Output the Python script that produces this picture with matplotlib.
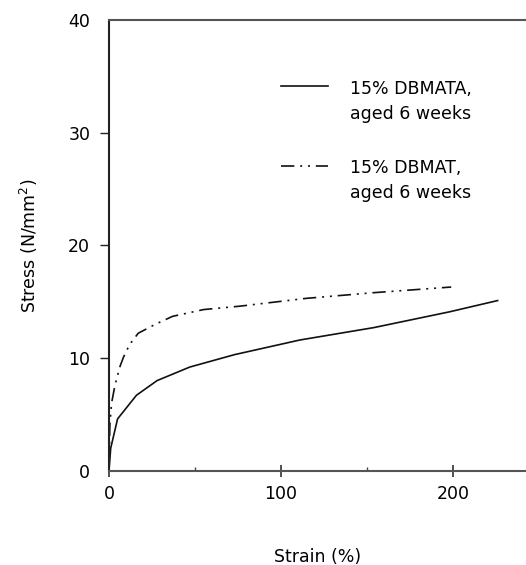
import numpy as np
import matplotlib
matplotlib.use("Agg")
import matplotlib.pyplot as plt

# ---------------------------------------------------------------------------
# Stress-strain data
# ---------------------------------------------------------------------------
strain_dbmata = [0, 1, 5, 16, 28, 47, 73, 111, 154, 198, 226]
stress_dbmata = [0, 2.0, 4.6, 6.7, 8.0, 9.2, 10.3, 11.6, 12.7, 14.1, 15.1]

strain_dbmat = [0, 0.5, 1.5, 3.5, 6.5, 8.5, 12, 17, 27, 37, 55, 76, 115, 154, 199]
stress_dbmat = [0, 4.0, 6.0, 7.6, 9.3, 10.1, 11.2, 12.2, 13.0, 13.7, 14.3, 14.6,
                15.3, 15.8, 16.3]

label_dbmata = "15% DBMATA,\naged 6 weeks"
label_dbmat = "15% DBMAT,\naged 6 weeks"

x_major = [0, 100, 200]
x_minor = [50, 150]
y_major = [0, 10, 20, 30, 40]

plt.rcParams["font.family"] = ["DejaVu Sans"]

fig = plt.figure(figsize=(5.26, 5.65), dpi=100)
ax = fig.add_axes([0.2072, 0.1669, 0.7928, 0.7977])

ax.plot(strain_dbmata, stress_dbmata, color="#111111", lw=1.2, ls="-",
        label=label_dbmata)
ax.plot(strain_dbmat, stress_dbmat, color="#111111", lw=1.2,
        ls=(0, (8, 3.5, 1.2, 3.5, 1.2, 3.5)), label=label_dbmat)

ax.set_xlim(0, 242.5)
ax.set_ylim(0, 40)

spine_col = "#555555"
for side in ["left", "bottom", "top"]:
    ax.spines[side].set_color(spine_col)
    ax.spines[side].set_linewidth(1.5)
ax.spines["left"].set_color("#222222")
ax.spines["right"].set_visible(False)

ax.set_xticks(x_major)
ax.set_xticks(x_minor, minor=True)
ax.set_yticks(y_major)
ax.tick_params(axis="x", which="major", direction="inout", length=8, width=1.1,
               color="#222222", labelsize=12.5, pad=6, top=False)
ax.tick_params(axis="x", which="minor", direction="in", length=3, width=1.0,
               color="#444444", top=False)
ax.tick_params(axis="y", which="major", direction="out", length=6.5, width=1.0,
               color="#222222", labelsize=12.5, pad=7, right=False)
yt = ax.yaxis.get_major_ticks()
yt[0].tick1line.set_visible(False)
yt[-1].tick1line.set_visible(False)

ax.set_xlabel("Strain (%)", fontsize=12.5, labelpad=33)
ax.set_ylabel("Stress (N/mm$^2$)", fontsize=12.5, labelpad=20)

leg = ax.legend(loc="upper left", bbox_to_anchor=(0.395, 0.883), frameon=False,
                fontsize=12.5, handlelength=2.75, handletextpad=1.25,
                labelspacing=2.12, borderaxespad=0)
for t in leg.get_texts():
    t.set_linespacing(1.5)
# put the legend line next to the first text line, not the middle
for col in leg._legend_handle_box.get_children():
    for row in col.get_children():
        row.align = "top"

fig.savefig("out.png", dpi=100)
